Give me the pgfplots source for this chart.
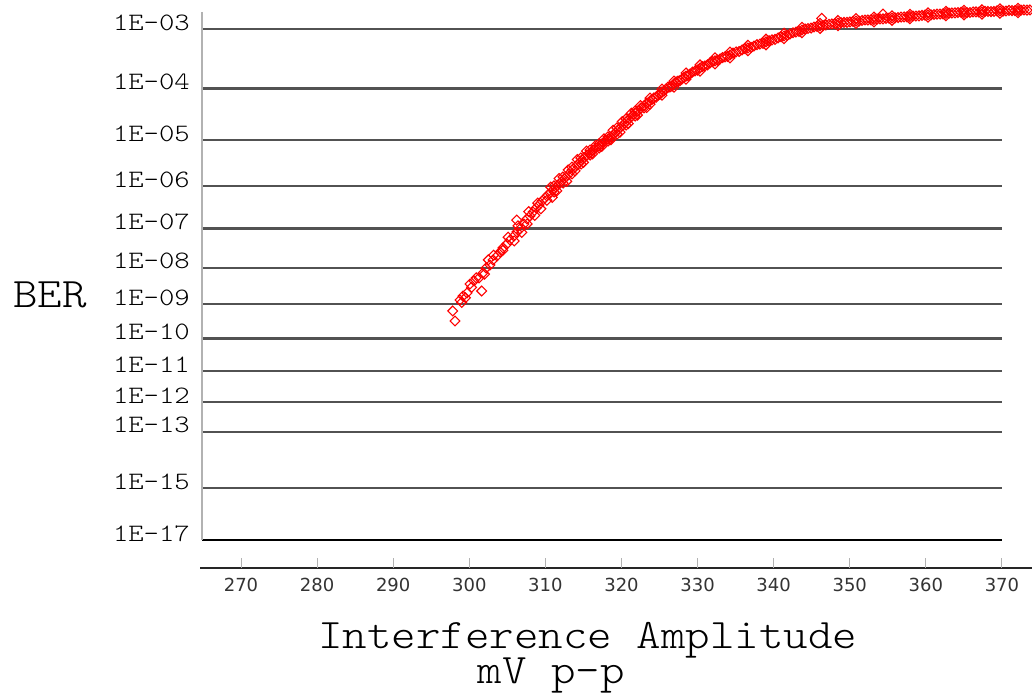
\documentclass[border=0pt]{standalone}
\usepackage{fontspec}
\usepackage{graphicx}
\usepackage{pgfplots}
\pgfplotsset{compat=1.18}
\newfontfamily\dvs{DejaVu Sans}
\newfontfamily\lmlt{Latin Modern Mono Light}
\newcommand\yl[1]{\scalebox{1.17}[1]{\lmlt\fontsize{25}{25}\selectfont #1}}
\newcommand\lbl[1]{\scalebox{1.11}[1]{\lmlt\fontsize{42}{42}\selectfont #1}}
\begin{document}
\begin{tikzpicture}[x=1pt,y=1pt]
\useasboundingbox (0,0) rectangle (1032,693);
\begin{axis}[at={(200pt,693pt)}, anchor=north west, scale only axis,
  width=832pt, height=567.7pt,
  xmin=264.61, xmax=373.95, ymin=2.7837, ymax=8.7831, y dir=reverse,
  hide axis, clip=false]
% grid lines (BER on a Q scale)
\pgfplotsinvokeforeach{3.0902,3.7190,4.2649,4.7534,5.1993,5.6120,5.9978,6.3613,6.7060,7.0345,7.3488,7.9413}{
  \draw[black!68, line width=2.2pt] (axis cs:264.87,#1) -- (axis cs:370,#1);
}
\draw[black, line width=2pt] (axis cs:264.87,8.4904) -- (axis cs:370,8.4904);
% left line
\draw[black!30, line width=1.3pt] (axis cs:264.87,2.910) -- (axis cs:264.87,8.4904);
% bottom axis
\draw[black!85, line width=2pt] (axis cs:264.61,8.7831) -- (axis cs:373.95,8.7831);
\pgfplotsinvokeforeach{270,280,290,300,310,320,330,340,350,360,370}{
  \draw[black!30, line width=1pt] (axis cs:#1,8.7831) -- (axis cs:#1,8.6774);
  \node[font=\dvs\fontsize{18}{18}\selectfont, text=black!80, anchor=north, inner sep=0pt, yshift=-10pt] at (axis cs:#1,8.7831) {#1};
}
% y labels
\node[anchor=base east, inner sep=0pt, xshift=-10pt, yshift=-1pt] at (axis cs:264.61,3.0902) {\yl{1E-03}};
\node[anchor=base east, inner sep=0pt, xshift=-10pt, yshift=-1pt] at (axis cs:264.61,3.7190) {\yl{1E-04}};
\node[anchor=base east, inner sep=0pt, xshift=-10pt, yshift=-1pt] at (axis cs:264.61,4.2649) {\yl{1E-05}};
\node[anchor=base east, inner sep=0pt, xshift=-10pt, yshift=-1pt] at (axis cs:264.61,4.7534) {\yl{1E-06}};
\node[anchor=base east, inner sep=0pt, xshift=-10pt, yshift=-1pt] at (axis cs:264.61,5.1993) {\yl{1E-07}};
\node[anchor=base east, inner sep=0pt, xshift=-10pt, yshift=-1pt] at (axis cs:264.61,5.6120) {\yl{1E-08}};
\node[anchor=base east, inner sep=0pt, xshift=-10pt, yshift=-1pt] at (axis cs:264.61,5.9978) {\yl{1E-09}};
\node[anchor=base east, inner sep=0pt, xshift=-10pt, yshift=-1pt] at (axis cs:264.61,6.3613) {\yl{1E-10}};
\node[anchor=base east, inner sep=0pt, xshift=-10pt, yshift=-1pt] at (axis cs:264.61,6.7060) {\yl{1E-11}};
\node[anchor=base east, inner sep=0pt, xshift=-10pt, yshift=-1pt] at (axis cs:264.61,7.0345) {\yl{1E-12}};
\node[anchor=base east, inner sep=0pt, xshift=-10pt, yshift=-1pt] at (axis cs:264.61,7.3488) {\yl{1E-13}};
\node[anchor=base east, inner sep=0pt, xshift=-10pt, yshift=-1pt] at (axis cs:264.61,7.9413) {\yl{1E-15}};
\node[anchor=base east, inner sep=0pt, xshift=-10pt, yshift=-1pt] at (axis cs:264.61,8.4904) {\yl{1E-17}};
% data: interference amplitude (mV p-p) vs BER expressed as Q value
\addplot[only marks, red, mark=square, mark size=3.5pt, mark options={rotate=45, draw=red, fill=none, line width=1.1pt}] table {
x y
297.82 6.070
298.12 6.176
298.78 5.954
299.17 5.912
299.70 5.880
300.09 5.785
300.62 5.753
301.63 5.859
301.28 5.721
301.80 5.669
302.20 5.616
302.72 5.584
303.12 5.531
303.64 5.489
304.04 5.447
304.43 5.404
304.95 5.362
305.35 5.320
305.87 5.278
306.27 5.235
306.23 5.109
306.66 5.204
307.19 5.151
307.58 5.098
307.98 5.066
308.37 5.024
308.77 4.982
309.16 4.950
309.55 4.908
309.95 4.876
310.34 4.844
310.74 4.813
311.13 4.781
311.53 4.749
311.92 4.718
312.31 4.686
312.71 4.654
313.10 4.622
313.50 4.580
313.89 4.549
314.29 4.517
314.68 4.485
315.07 4.453
315.47 4.422
315.86 4.401
316.26 4.369
316.65 4.348
317.04 4.327
317.44 4.305
317.83 4.274
318.23 4.253
318.62 4.231
319.02 4.200
319.41 4.168
319.80 4.136
320.20 4.105
320.59 4.073
320.99 4.041
321.38 4.010
321.78 3.978
322.17 3.957
322.56 3.925
322.96 3.904
323.35 3.872
323.75 3.851
324.27 3.819
324.80 3.788
325.32 3.756
325.85 3.724
326.37 3.703
326.90 3.671
327.43 3.640
327.95 3.619
328.48 3.587
329.00 3.566
329.66 3.534
330.32 3.502
330.97 3.481
331.63 3.449
332.29 3.428
332.95 3.407
333.60 3.386
334.26 3.365
335.05 3.333
335.84 3.312
336.62 3.291
337.41 3.270
338.20 3.249
338.99 3.227
339.78 3.206
340.57 3.185
341.36 3.164
342.14 3.143
342.93 3.122
343.72 3.101
344.51 3.085
345.30 3.069
346.09 3.058
346.31 2.977
346.87 3.048
347.66 3.037
348.45 3.027
349.24 3.021
350.03 3.016
350.82 3.006
351.61 3.000
352.39 2.995
353.18 2.990
353.97 2.984
354.37 2.932
354.76 2.979
355.55 2.974
356.34 2.969
357.13 2.963
357.91 2.958
358.70 2.953
359.49 2.947
360.28 2.942
361.07 2.937
361.86 2.932
362.64 2.926
363.43 2.921
364.22 2.916
365.01 2.916
365.80 2.916
366.59 2.910
367.37 2.910
368.16 2.905
368.95 2.905
369.74 2.900
370.53 2.900
371.32 2.895
372.11 2.895
372.89 2.889
373.68 2.889
311.14 4.813
312.32 4.718
313.50 4.622
314.69 4.517
315.87 4.422
317.05 4.348
318.23 4.274
319.42 4.200
320.60 4.105
321.78 4.010
322.96 3.925
311.13 4.749
312.31 4.654
313.49 4.549
314.67 4.453
315.86 4.369
317.04 4.305
318.22 4.231
319.40 4.136
320.59 4.041
321.77 3.957
311.5 4.800
312.8 4.700
313.9 4.590
315.0 4.500
316.2 4.410
317.4 4.330
318.6 4.260
319.8 4.180
320.9 4.090
322.1 4.000
323.3 3.920
310.7 4.760
311.8 4.670
313.0 4.580
314.2 4.470
315.4 4.380
316.6 4.320
317.7 4.250
318.9 4.160
320.1 4.070
321.3 3.980
322.5 3.900
304.4 5.430
305.9 5.330
306.9 5.240
307.6 5.150
308.6 5.060
309.4 4.990
310.2 4.900
310.9 4.870
309.0 4.930
307.8 5.020
306.4 5.170
305.1 5.290
303.2 5.480
302.5 5.530
302.0 5.680
300.9 5.720
300.3 5.820
299.5 5.930
299.0 5.980
323.75 3.885
323.75 3.820
325.32 3.790
325.32 3.725
326.90 3.705
326.90 3.640
328.48 3.620
328.48 3.555
330.32 3.535
330.32 3.470
332.29 3.460
332.29 3.395
334.26 3.395
334.26 3.335
336.62 3.320
336.62 3.262
338.99 3.257
338.99 3.198
341.36 3.192
341.36 3.135
343.72 3.130
343.72 3.072
346.09 3.085
346.09 3.030
348.45 3.054
348.45 3.000
350.82 3.032
350.82 2.980
353.18 3.015
353.18 2.965
355.55 2.998
355.55 2.950
357.91 2.982
357.91 2.935
360.28 2.966
360.28 2.920
362.64 2.950
362.64 2.904
365.01 2.940
365.01 2.893
367.37 2.933
367.37 2.887
369.74 2.924
369.74 2.878
372.11 2.918
372.11 2.872
324.01 3.835
324.54 3.812
325.06 3.780
325.59 3.745
326.11 3.705
326.64 3.695
327.17 3.650
327.69 3.635
328.22 3.600
328.74 3.582
329.33 3.545
329.99 3.525
330.65 3.487
331.30 3.470
331.96 3.435
332.62 3.420
333.28 3.392
333.93 3.380
334.66 3.345
335.45 3.328
336.23 3.298
337.02 3.285
337.81 3.256
338.60 3.242
339.39 3.214
340.18 3.200
340.97 3.172
341.75 3.158
342.54 3.130
343.33 3.115
344.12 3.090
344.91 3.080
345.70 3.062
346.48 3.055
347.27 3.040
348.06 3.035
348.85 3.022
349.64 3.020
350.43 3.010
351.22 3.006
352.00 2.995
352.79 2.994
353.58 2.985
354.37 2.984
355.16 2.975
355.95 2.973
356.74 2.964
357.52 2.962
358.31 2.953
359.10 2.952
359.89 2.943
360.68 2.941
361.47 2.933
362.25 2.931
363.04 2.922
363.83 2.920
364.62 2.913
365.40 2.917
366.20 2.910
366.98 2.911
367.77 2.904
368.56 2.906
369.35 2.899
370.14 2.901
370.93 2.894
371.72 2.896
372.50 2.890
373.29 2.891
};
\end{axis}
\node[anchor=base, inner sep=0pt] at (50,385) {\lbl{BER}};
\node[anchor=base west, inner sep=0pt] at (318.3,45) {\scalebox{1.11}[1]{\lmlt\fontsize{42}{34}\selectfont\begin{tabular}[t]{@{}l@{}}Interference Amplitude\\\hspace*{143.5pt}mV p-p\end{tabular}}};
\end{tikzpicture}
\end{document}
